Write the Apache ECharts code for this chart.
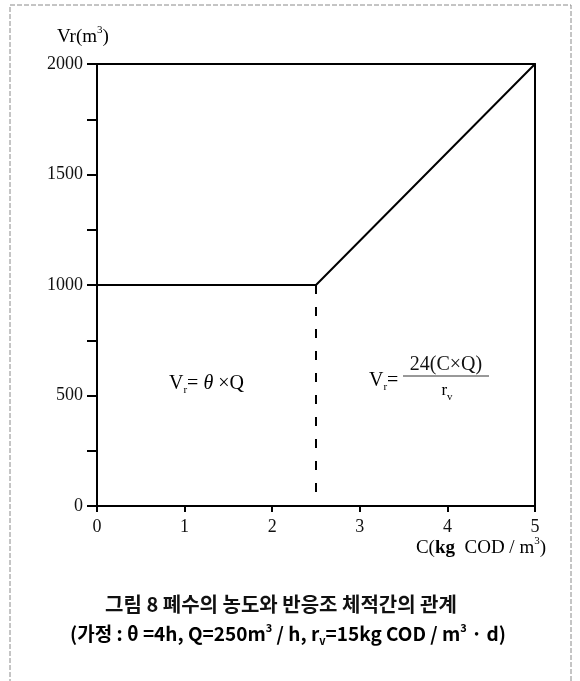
<!DOCTYPE html>
<html>
<head>
<meta charset="utf-8">
<script src="https://cdn.jsdelivr.net/npm/echarts@6/dist/echarts.min.js"></script>
<style>
  html, body { margin: 0; padding: 0; background: #fff; }
  #chart { width: 580px; height: 681px; }
</style>
</head>
<body>
<div id="chart"></div>
<script>
// Reactor volume Vr versus wastewater concentration C
const concentration = [0, 2.5, 5];        // C (kg COD / m3)
const reactorVolume = [1000, 1000, 2000]; // Vr (m3)
const breakConcentration = 2.5;           // boundary between the two regimes
const boundaryVolume = [1000, 0];
const xTickValues = [0, 1, 2, 3, 4, 5];
const yTickValues = [0, 500, 1000, 1500, 2000];

const SERIF = '"Liberation Serif", "DejaVu Serif", serif';
const KOR = '"Noto Sans CJK KR", "Noto Sans", sans-serif';

const curve = concentration.map((c, i) => [c, reactorVolume[i]]);
const boundary = boundaryVolume.map(v => [breakConcentration, v]);

const chart = echarts.init(document.getElementById('chart'), null, { renderer: 'canvas' });

// plain axis lines closing the plot box on the top and right
const frameAxis = {
  type: 'value',
  axisLine: { show: true, onZero: false, lineStyle: { color: '#000', width: 2 } },
  axisTick: { show: false }, axisLabel: { show: false }, splitLine: { show: false }
};

const base = { fontFamily: SERIF, fontSize: 19, color: '#111', lineHeight: 24 };
const sup = { fontFamily: SERIF, fontSize: 11, color: '#111', lineHeight: 13, verticalAlign: 'top' };
const sub = { fontFamily: SERIF, fontSize: 11, color: '#111', lineHeight: 11, verticalAlign: 'bottom' };

chart.setOption({
  animation: false,
  backgroundColor: '#fff',
  grid: { left: 97, top: 64, right: 45, bottom: 175, containLabel: false },
  xAxis: [
    {
      type: 'value',
      min: xTickValues[0], max: xTickValues[xTickValues.length - 1], interval: 1,
      axisLine: { show: true, onZero: false, lineStyle: { color: '#000', width: 2 } },
      axisTick: { show: true, length: 6, lineStyle: { color: '#000', width: 2 } },
      axisLabel: { margin: 12, fontFamily: SERIF, fontSize: 18, color: '#111' },
      splitLine: { show: false }
    },
    Object.assign({}, frameAxis, { position: 'top', min: 0, max: 5 })
  ],
  yAxis: [
    {
      type: 'value',
      min: yTickValues[0], max: yTickValues[yTickValues.length - 1], interval: 500,
      axisLine: { show: true, onZero: false, lineStyle: { color: '#000', width: 2 } },
      axisTick: { show: true, length: 10, lineStyle: { color: '#000', width: 2 } },
      minorTick: { show: true, splitNumber: 2, length: 10, lineStyle: { color: '#000', width: 2 } },
      axisLabel: {
        margin: 14, fontFamily: SERIF, fontSize: 18, color: '#111',
        formatter: v => String(v)
      },
      splitLine: { show: false }, minorSplitLine: { show: false }
    },
    Object.assign({}, frameAxis, { position: 'right', min: 0, max: 2000 })
  ],
  series: [
    {
      type: 'line', data: curve, symbol: 'none', silent: true,
      lineStyle: { color: '#000', width: 2 }
    },
    {
      type: 'line', data: boundary, symbol: 'none', silent: true,
      lineStyle: { color: '#000', width: 2, type: [9, 13] }
    }
  ],
  graphic: [
    // page frame
    {
      type: 'rect', silent: true,
      shape: { x: 10, y: 5, width: 561, height: 720 },
      style: { fill: 'none', stroke: '#8a8a8a', lineWidth: 1, lineDash: [5, 2] }
    },
    // axis names
    {
      type: 'text', silent: true,
      style: {
        x: 57, y: 37, textVerticalAlign: 'middle',
        text: '{b|Vr(m}{p|3}{b|)}',
        rich: { b: base, p: sup }
      }
    },
    {
      type: 'text', silent: true,
      style: {
        x: 546, y: 548, textAlign: 'right', textVerticalAlign: 'middle',
        text: '{b|C(}{k|kg}{b|  COD / m}{p|3}{b|)}',
        rich: { b: base, k: Object.assign({}, base, { fontWeight: 'bold' }), p: sup }
      }
    },
    // regime formulas
    {
      type: 'text', silent: true,
      style: {
        x: 169, y: 384, textVerticalAlign: 'middle',
        text: '{b|V}{s|r}{b|= }{i|θ}{b| ×Q}',
        rich: {
          b: Object.assign({}, base, { fontSize: 20 }), s: sub,
          i: Object.assign({}, base, { fontSize: 20, fontStyle: 'italic' })
        }
      }
    },
    {
      type: 'text', silent: true,
      style: {
        x: 369, y: 381, textVerticalAlign: 'middle',
        text: '{b|V}{s|r}{b|=}',
        rich: { b: Object.assign({}, base, { fontSize: 20 }), s: sub }
      }
    },
    {
      type: 'text', silent: true,
      style: {
        x: 446, y: 365, textAlign: 'center', textVerticalAlign: 'middle',
        text: '24(C×Q)', font: '20px ' + SERIF, fill: '#111'
      }
    },
    {
      type: 'line', silent: true,
      shape: { x1: 403, y1: 376, x2: 489, y2: 376 },
      style: { stroke: '#333', lineWidth: 1 }
    },
    {
      type: 'text', silent: true,
      style: {
        x: 447, y: 391, textAlign: 'center', textVerticalAlign: 'middle',
        text: '{b|r}{s|v}',
        rich: { b: Object.assign({}, base, { fontSize: 17 }), s: sub }
      }
    },
    // caption
    {
      type: 'text', silent: true,
      style: {
        x: 281, y: 604, textAlign: 'center', textVerticalAlign: 'middle',
        text: '그림 8 폐수의 농도와 반응조 체적간의 관계',
        font: 'bold 20px ' + KOR, fill: '#111'
      }
    },
    {
      type: 'text', silent: true,
      style: {
        x: 288, y: 634, textAlign: 'center', textVerticalAlign: 'middle',
        text: '{c|(가정 : θ =4h, Q=250m}{p|3}{c| / h, r}{s|v}{c|=15kg COD / m}{p|3}{c| · d)}',
        rich: {
          c: { fontFamily: KOR, fontWeight: 'bold', fontSize: 19, color: '#111', lineHeight: 24 },
          p: { fontFamily: KOR, fontWeight: 'bold', fontSize: 11, color: '#111', lineHeight: 13, verticalAlign: 'top' },
          s: { fontFamily: KOR, fontWeight: 'bold', fontSize: 11, color: '#111', lineHeight: 11, verticalAlign: 'bottom' }
        }
      }
    }
  ]
});
</script>
</body>
</html>
